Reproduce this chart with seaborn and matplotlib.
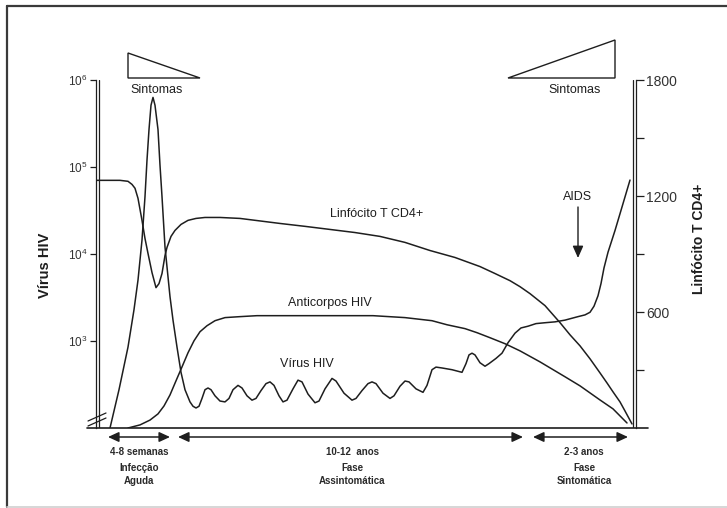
import matplotlib
matplotlib.use("Agg")
import matplotlib.pyplot as plt
import seaborn as sns
import pandas as pd
from matplotlib.lines import Line2D
from matplotlib.patches import Polygon, FancyArrowPatch

# ---------------- data (schematic time units) ----------------
virus_t = [13, 22, 31, 37, 41, 45, 48, 50, 52, 54, 56, 58, 61, 63, 65, 68, 73, 76, 80, 84,
           88, 93, 96, 99, 102, 105, 108, 111, 114, 118, 123, 128, 132, 136, 141, 145, 150,
           155, 159, 164, 169, 173, 177, 182, 186, 190, 196, 201, 205, 211, 218, 222, 228,
           235, 239, 247, 255, 259, 265, 271, 275, 279, 286, 293, 297, 303, 308, 312, 319,
           326, 330, 335, 339, 345, 355, 365, 369, 372, 375, 378, 383, 388, 392, 399, 405,
           411, 418, 424, 431, 439, 448, 458, 468, 481, 488, 493, 497, 501, 504, 507, 511,
           518, 525, 533]
virus_log10 = [2.00, 2.44, 2.93, 3.36, 3.70, 4.16, 4.66, 5.08, 5.43, 5.71, 5.80, 5.71, 5.43,
               5.02, 4.66, 4.08, 3.51, 3.24, 2.93, 2.64, 2.44, 2.30, 2.25, 2.23, 2.25, 2.34,
               2.44, 2.46, 2.44, 2.37, 2.31, 2.30, 2.34, 2.44, 2.49, 2.46, 2.37, 2.32, 2.34,
               2.43, 2.51, 2.53, 2.49, 2.37, 2.30, 2.32, 2.45, 2.55, 2.53, 2.39, 2.29, 2.31,
               2.45, 2.57, 2.54, 2.40, 2.32, 2.34, 2.43, 2.51, 2.53, 2.51, 2.40, 2.34, 2.37,
               2.48, 2.54, 2.53, 2.45, 2.41, 2.49, 2.67, 2.70, 2.69, 2.67, 2.64, 2.74, 2.84,
               2.86, 2.84, 2.75, 2.71, 2.74, 2.80, 2.86, 2.98, 3.09, 3.15, 3.17, 3.20, 3.21,
               3.22, 3.24, 3.28, 3.30, 3.33, 3.40, 3.52, 3.66, 3.84, 4.02, 4.27, 4.54, 4.85]

cd4_t = [0, 13, 23, 31, 35, 38, 41, 45, 48, 51, 55, 59, 62, 65, 68, 70, 74, 78, 84, 91, 99,
         108, 123, 143, 183, 208, 233, 258, 283, 308, 333, 358, 383, 398, 413, 423, 433, 448,
         463, 473, 483, 493, 503, 510, 516, 523, 528, 535]
cd4_cells = [1281, 1281, 1281, 1276, 1260, 1240, 1188, 1074, 980, 903, 804, 726, 747, 799,
             892, 934, 991, 1022, 1053, 1074, 1084, 1089, 1089, 1084, 1058, 1043, 1027, 1011,
             991, 960, 918, 882, 835, 799, 762, 731, 695, 633, 545, 482, 425, 358, 285, 233,
             187, 135, 88, 21]

anti_t = [31, 43, 53, 61, 67, 73, 79, 85, 91, 97, 103, 110, 118, 128, 143, 160, 193, 276,
          308, 335, 350, 368, 380, 393, 408, 423, 443, 468, 483, 503, 516, 530]
anti_level = [0, 16, 41, 73, 114, 171, 244, 316, 389, 451, 498, 529, 555, 571, 576, 581, 581,
              581, 571, 555, 534, 514, 493, 467, 436, 399, 342, 265, 218, 145, 99, 26]

left_ticks = [3, 4, 5, 6]
left_tick_labels = [r"$10^{3}$", r"$10^{4}$", r"$10^{5}$", r"$10^{6}$"]
right_ticks = [300, 600, 900, 1200, 1500, 1800]
right_tick_labels = ["", "600", "", "1200", "", "1800"]

curve_labels = ["Linfócito T CD4+", "Anticorpos HIV", "Vírus HIV"]
phase_texts = [["4-8 semanas", "Infecção", "Aguda"],
               ["10-12  anos", "Fase", "Assintomática"],
               ["2-3 anos", "Fase", "Sintomática"]]

# ---------------- style ----------------
sns.set_theme(style="white")
plt.rcParams["font.family"] = ["Liberation Sans", "DejaVu Sans"]
plt.rcParams["mathtext.fontset"] = "custom"
plt.rcParams["mathtext.rm"] = "Liberation Sans"
plt.rcParams["mathtext.it"] = "Liberation Sans:italic"
plt.rcParams["mathtext.bf"] = "Liberation Sans:bold"

INK = "#1e1e1e"
W, H = 727, 508
fig = plt.figure(figsize=(W / 100, H / 100), dpi=100)
fig.patch.set_facecolor("white")


def fx(x):
    return x / W


def fy(y):
    return 1 - y / H


ax = fig.add_axes([fx(96), fy(428), 540 / W, 348 / H])
ax.set_facecolor("none")
ax.set_xlim(-1, 539)
ax.set_ylim(2, 6)
ax2 = ax.twinx()
ax2.set_ylim(0, 1800)

df_v = pd.DataFrame({"t": virus_t, "v": virus_log10})
df_c = pd.DataFrame({"t": cd4_t, "c": cd4_cells})
df_a = pd.DataFrame({"t": anti_t, "a": anti_level})
sns.lineplot(data=df_v, x="t", y="v", ax=ax, color=INK, lw=1.1, sort=False, estimator=None)
sns.lineplot(data=df_c, x="t", y="c", ax=ax2, color=INK, lw=1.1, sort=False, estimator=None)
sns.lineplot(data=df_a, x="t", y="a", ax=ax2, color=INK, lw=1.1, sort=False, estimator=None)

# axes / spines
for s in ["top", "right", "bottom"]:
    ax.spines[s].set_visible(False)
for s in ["top", "left", "bottom"]:
    ax2.spines[s].set_visible(False)
ax.spines["left"].set_color(INK)
ax.spines["left"].set_linewidth(0.9)
ax2.spines["right"].set_color(INK)
ax2.spines["right"].set_linewidth(0.9)
# second line of the double axes
ax.axvline(2, color=INK, lw=0.9)
ax.axvline(536, color=INK, lw=0.9)
# extended baseline
ax.axhline(2, xmin=-9 / 540, xmax=1 + 12 / 540, color=INK, lw=1.2, clip_on=False)

ax.set_xticks([])
ax.set_xlabel("")
ax.set_yticks(left_ticks)
ax.set_yticklabels(left_tick_labels)
ax.tick_params(axis="y", direction="out", length=4.5, width=0.9, color=INK, pad=1.5,
               labelsize=8.5, labelcolor="#333333", left=True)
ax2.set_yticks(right_ticks)
ax2.set_yticklabels(right_tick_labels)
ax2.tick_params(axis="y", direction="out", length=5.8, width=0.9, color=INK, pad=1.5,
                labelsize=10, labelcolor="#333333", right=True)

ax.set_ylabel("Vírus HIV", fontsize=10.5, fontweight="bold", color=INK)
ax.yaxis.set_label_coords((52 - 96) / 540, (428 - 265) / 348)
ax2.set_ylabel("Linfócito T CD4+", fontsize=10, fontweight="bold", color=INK, rotation=90)
ax2.yaxis.set_label_coords((692 - 96) / 540, (428 - 239) / 348)

# axis break marks
for dy in (0, 5):
    fig.add_artist(Line2D([fx(88), fx(106)], [fy(421 + dy), fy(413 + dy)], color=INK, lw=0.9))

# curve labels
label_pos = [(377, 214), (330, 303), (307, 364)]
for txt, (x, y) in zip(curve_labels, label_pos):
    fig.text(fx(x), fy(y), txt, ha="center", va="center", fontsize=9, color=INK)

# symptom triangles
fig.add_artist(Polygon([(fx(128), fy(53)), (fx(128), fy(78)), (fx(200), fy(78))], closed=True,
                       fill=False, edgecolor=INK, lw=1.0, transform=fig.transFigure))
fig.add_artist(Polygon([(fx(508), fy(78)), (fx(615), fy(40)), (fx(615), fy(78))], closed=True,
                       fill=False, edgecolor=INK, lw=1.0, transform=fig.transFigure))
fig.text(fx(157), fy(90), "Sintomas", ha="center", va="center", fontsize=9, color=INK)
fig.text(fx(575), fy(90), "Sintomas", ha="center", va="center", fontsize=9, color=INK)

# AIDS arrow
fig.text(fx(578), fy(197), "AIDS", ha="center", va="center", fontsize=9, color=INK)
fig.add_artist(FancyArrowPatch((fx(578), fy(207)), (fx(578), fy(258)),
                               transform=fig.transFigure,
                               arrowstyle="-|>,head_length=0.72,head_width=0.32",
                               mutation_scale=10, color=INK, lw=1.0, shrinkA=0, shrinkB=0))

# phase arrows and texts
arrow_spans = [(108, 170), (178, 523), (533, 628)]
text_centers = [139, 352, 584]
for (a, b), cx, lines in zip(arrow_spans, text_centers, phase_texts):
    fig.add_artist(FancyArrowPatch((fx(a), fy(437)), (fx(b), fy(437)),
                                   transform=fig.transFigure,
                                   arrowstyle="<|-|>,head_length=0.65,head_width=0.3",
                                   mutation_scale=10, color=INK, lw=1.1, shrinkA=0, shrinkB=0))
    for ty, t in zip((452, 468, 481), lines):
        fig.text(fx(cx), fy(ty), t, ha="center", va="center", fontsize=7, fontweight="bold",
                 color="#2a2a2a")

# outer frame
fig.add_artist(Line2D([fx(7), fx(7)], [fy(6), fy(507)], color="#3a3a3a", lw=1.6))
fig.add_artist(Line2D([fx(7), fx(727)], [fy(6), fy(6)], color="#3a3a3a", lw=1.6))
fig.add_artist(Line2D([fx(7), fx(727)], [fy(507), fy(507)], color="#d0d0d0", lw=1.2))

fig.savefig("out.png", dpi=100, facecolor="white")
